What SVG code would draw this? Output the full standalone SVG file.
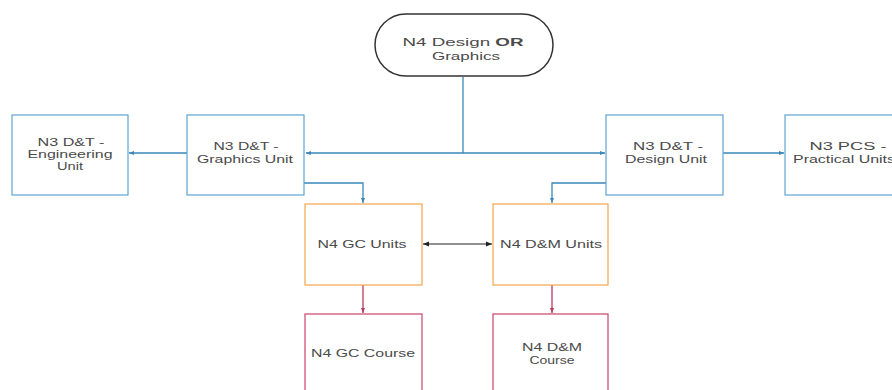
<svg xmlns="http://www.w3.org/2000/svg" width="892" height="390" viewBox="0 0 892 390">
<style>
.t{font-family:"Liberation Sans",Arial,sans-serif;font-size:11px;fill:#4a4a4a;text-anchor:middle}
.b{fill:#fff;stroke:#5fa3d3;stroke-width:1.2}
.o{fill:#fff;stroke:#f3a64a;stroke-width:1.2}
.r{fill:#fff;stroke:#c9436a;stroke-width:1.2}
.cb{fill:none;stroke:#3b87ba;stroke-width:1.3}
.ck{fill:none;stroke:#222;stroke-width:1}
.cr{fill:none;stroke:#b93a5e;stroke-width:1.3}
</style>
<defs>
<marker id="ab" viewBox="0 0 10 10" refX="10" refY="5" markerWidth="5" markerHeight="5" orient="auto" markerUnits="userSpaceOnUse"><path d="M0,1 L10,5 L0,9 z" fill="#3b87ba"/></marker>
<marker id="ak" viewBox="0 0 10 10" refX="10" refY="5" markerWidth="6" markerHeight="6" orient="auto" markerUnits="userSpaceOnUse"><path d="M0,1 L10,5 L0,9 z" fill="#222"/></marker>
<marker id="aks" viewBox="0 0 10 10" refX="0" refY="5" markerWidth="6" markerHeight="6" orient="auto" markerUnits="userSpaceOnUse"><path d="M10,1 L0,5 L10,9 z" fill="#222"/></marker>
<marker id="ar" viewBox="0 0 10 10" refX="10" refY="5" markerWidth="5" markerHeight="5" orient="auto" markerUnits="userSpaceOnUse"><path d="M0,1 L10,5 L0,9 z" fill="#b93a5e"/></marker>
</defs>
<rect width="892" height="390" fill="#fff"/>
<g id="connectors">
<path class="cb" d="M463,77 V153 H306" marker-end="url(#ab)"/>
<path class="cb" d="M463,153 H605" marker-end="url(#ab)"/>
<path class="cb" d="M187,153 H129" marker-end="url(#ab)"/>
<path class="cb" d="M723,153 H784" marker-end="url(#ab)"/>
<path class="cb" d="M304,183 H363 V203" marker-end="url(#ab)"/>
<path class="cb" d="M606,183 H552 V203" marker-end="url(#ab)"/>
<path class="ck" d="M423,244 H492" marker-start="url(#aks)" marker-end="url(#ak)"/>
<path class="cr" d="M363,285 V313" marker-end="url(#ar)"/>
<path class="cr" d="M552,285 V313" marker-end="url(#ar)"/>
</g>
<g id="top">
<rect x="375" y="14" width="178" height="62" rx="31" ry="31" fill="#fff" stroke="#333" stroke-width="1.5"/>
<text class="t" x="463" y="46" textLength="121" lengthAdjust="spacingAndGlyphs">N4 Design <tspan font-weight="bold">OR</tspan></text>
<text class="t" x="466" y="60" textLength="68" lengthAdjust="spacingAndGlyphs">Graphics</text>
</g>
<g id="engineering">
<rect class="b" x="12" y="115" width="116" height="80"/>
<text class="t" x="71" y="146" textLength="67" lengthAdjust="spacingAndGlyphs">N3 D&amp;T -</text>
<text class="t" x="70" y="158" textLength="85" lengthAdjust="spacingAndGlyphs">Engineering</text>
<text class="t" x="70" y="170" textLength="26" lengthAdjust="spacingAndGlyphs">Unit</text>
</g>
<g id="graphics">
<rect class="b" x="187" y="115" width="117" height="80"/>
<text class="t" x="246" y="150" textLength="65" lengthAdjust="spacingAndGlyphs">N3 D&amp;T -</text>
<text class="t" x="245" y="163" textLength="96" lengthAdjust="spacingAndGlyphs">Graphics Unit</text>
</g>
<g id="design">
<rect class="b" x="606" y="115" width="117" height="80"/>
<text class="t" x="668" y="150" textLength="70" lengthAdjust="spacingAndGlyphs">N3 D&amp;T -</text>
<text class="t" x="666" y="163" textLength="82" lengthAdjust="spacingAndGlyphs">Design Unit</text>
</g>
<g id="pcs">
<rect class="b" x="785" y="115" width="117" height="80"/>
<text class="t" x="848" y="150" textLength="77" lengthAdjust="spacingAndGlyphs">N3 PCS -</text>
<text class="t" x="844" y="163" textLength="102" lengthAdjust="spacingAndGlyphs">Practical Units</text>
</g>
<g id="gcunits">
<rect class="o" x="305" y="204" width="117" height="81"/>
<text class="t" x="362" y="248" textLength="89" lengthAdjust="spacingAndGlyphs">N4 GC Units</text>
</g>
<g id="dmunits">
<rect class="o" x="493" y="204" width="115" height="81"/>
<text class="t" x="551" y="248" textLength="102" lengthAdjust="spacingAndGlyphs">N4 D&amp;M Units</text>
</g>
<g id="gccourse">
<rect class="r" x="305" y="314" width="117" height="82"/>
<text class="t" x="363" y="357" textLength="104" lengthAdjust="spacingAndGlyphs">N4 GC Course</text>
</g>
<g id="dmcourse">
<rect class="r" x="493" y="314" width="115" height="82"/>
<text class="t" x="552" y="351" textLength="60" lengthAdjust="spacingAndGlyphs">N4 D&amp;M</text>
<text class="t" x="552" y="364" textLength="45" lengthAdjust="spacingAndGlyphs">Course</text>
</g>
</svg>
